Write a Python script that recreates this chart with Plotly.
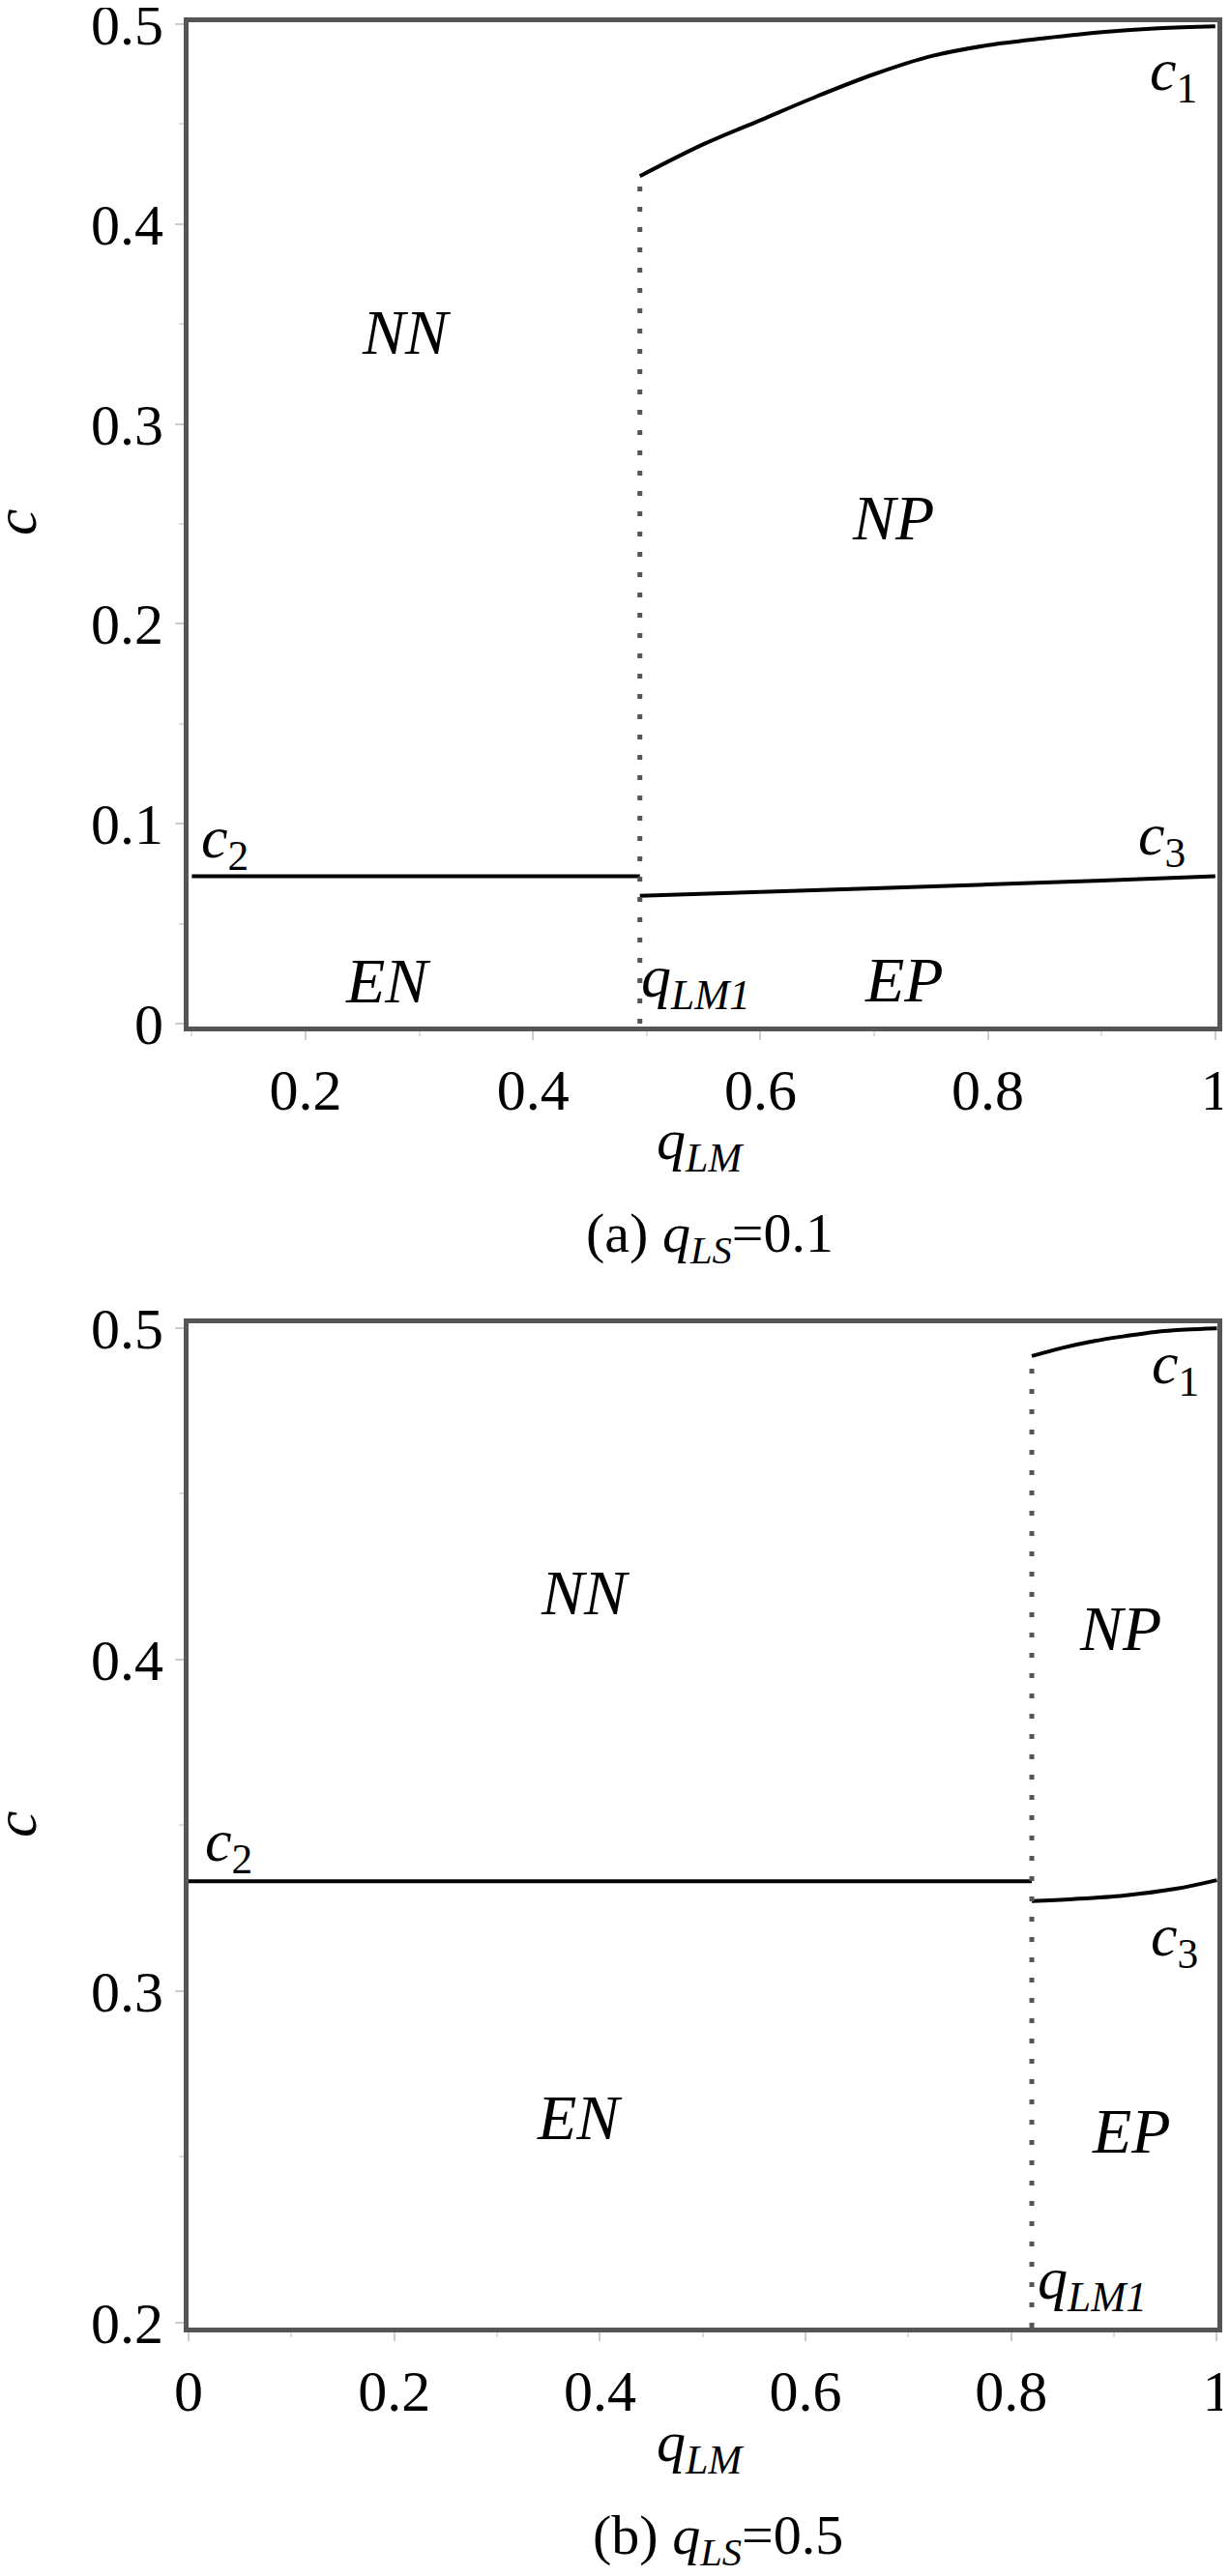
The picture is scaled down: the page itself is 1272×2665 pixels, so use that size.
import plotly.graph_objects as go

# ---------------- data ----------------
# panel (a) q_LS = 0.1
qlm1_a = 0.494
c1_a_q = [0.494, 0.55, 0.6, 0.65, 0.7, 0.75, 0.8, 0.85, 0.9, 0.95, 1.0]
c1_a = [0.424, 0.440, 0.452, 0.464, 0.475, 0.484, 0.4895, 0.493, 0.496, 0.498, 0.499]
c2_a_q = [0.1, 0.494]
c2_a = [0.0737, 0.0737]
c3_a_q = [0.494, 0.6, 0.7, 0.8, 0.9, 1.0]
c3_a = [0.0640, 0.0659, 0.0677, 0.0696, 0.0716, 0.0737]

# panel (b) q_LS = 0.5
qlm1_b = 0.82
c1_b_q = [0.82, 0.85, 0.88, 0.91, 0.94, 0.97, 1.0]
c1_b = [0.4915, 0.4940, 0.4960, 0.4975, 0.4988, 0.4995, 0.4999]
c2_b_q = [0.0, 0.82]
c2_b = [0.3331, 0.3331]
c3_b_q = [0.82, 0.86, 0.91, 0.96, 1.0]
c3_b = [0.3271, 0.3277, 0.3288, 0.3308, 0.3334]

# region / curve labels: (text, q, c, size)
labels_a = [
    ("<i>NN</i>", 0.289, 0.346, 66),
    ("<i>NP</i>", 0.717, 0.2534, 66),
    ("<i>EN</i>", 0.2723, 0.0213, 66),
    ("<i>EP</i>", 0.7264, 0.0218, 66),
    ("<i>c</i><sub>1</sub>", 0.9636, 0.4749, 62),
    ("<i>c</i><sub>2</sub>", 0.1294, 0.0914, 62),
    ("<i>c</i><sub>3</sub>", 0.9534, 0.0928, 62),
    ("<i>q</i><sub><i>LM1</i></sub>", 0.5427, 0.0213, 62),
]
labels_b = [
    ("<i>NN</i>", 0.386, 0.4203, 66),
    ("<i>NP</i>", 0.906, 0.4095, 66),
    ("<i>EN</i>", 0.380, 0.262, 66),
    ("<i>EP</i>", 0.9164, 0.2579, 66),
    ("<i>c</i><sub>1</sub>", 0.9596, 0.488, 62),
    ("<i>c</i><sub>2</sub>", 0.0394, 0.3442, 62),
    ("<i>c</i><sub>3</sub>", 0.9587, 0.3154, 62),
    ("<i>q</i><sub><i>LM1</i></sub>", 0.8787, 0.2119, 62),
]

caption_a = "(a) <i>q</i><sub><i>LS</i></sub>=0.1"
caption_b = "(b) <i>q</i><sub><i>LS</i></sub>=0.5"
xtitle = "<i>q</i><sub><i>LM</i></sub>"
ytitle = "<i>c</i>"

# ---------------- figure ----------------
OFF = 8                      # default page margin of the html body
W, H = 1272 - 2 * OFF, 2665 - 2 * OFF
FONT = "Liberation Serif"
CURVE = dict(color="black", width=4)
DOT = dict(color="#555555", width=5, dash="5px,16px")

fig = go.Figure()

def add_panel(xa, ya, c1q, c1, c2q, c2, c3q, c3, qlm1, ybottom):
    fig.add_trace(go.Scatter(x=c1q, y=c1, mode="lines", line=CURVE, xaxis=xa, yaxis=ya,
                             line_shape="spline", showlegend=False, hoverinfo="skip"))
    fig.add_trace(go.Scatter(x=c2q, y=c2, mode="lines", line=CURVE, xaxis=xa, yaxis=ya,
                             showlegend=False, hoverinfo="skip"))
    fig.add_trace(go.Scatter(x=c3q, y=c3, mode="lines", line=CURVE, xaxis=xa, yaxis=ya,
                             line_shape="spline", showlegend=False, hoverinfo="skip"))
    fig.add_trace(go.Scatter(x=[qlm1, qlm1], y=[ybottom, c1[0]], mode="lines", line=DOT,
                             xaxis=xa, yaxis=ya, showlegend=False, hoverinfo="skip"))

add_panel("x", "y", c1_a_q, c1_a, c2_a_q, c2_a, c3_a_q, c3_a, qlm1_a, 0.0)
add_panel("x2", "y2", c1_b_q, c1_b, c2_b_q, c2_b, c3_b_q, c3_b, qlm1_b, 0.19845)

def px_x(p):
    return (p - OFF) / W

def px_y(p):
    return 1 - (p - OFF) / H

axis_common = dict(
    showline=True, mirror=True, linecolor="#555555", linewidth=5,
    showgrid=False, zeroline=False, automargin=False,
    ticks="outside", ticklen=9, tickwidth=2, tickcolor="#cccccc",
    ticklabeloverflow="allow",
    tickfont=dict(family=FONT, size=60, color="black"),
)

xdom = [px_x(195), px_x(1259)]
fig.update_layout(
    width=W, height=H,
    margin=dict(l=0, r=0, t=0, b=0, autoexpand=False),
    paper_bgcolor="white", plot_bgcolor="white",
    font=dict(family=FONT, color="black"),
    xaxis=dict(domain=xdom, anchor="y", range=[0.0971, 1.0019], tick0=0, dtick=0.2,
               minor=dict(ticks="outside", ticklen=5, tickcolor="#dddddd", dtick=0.1), **axis_common),
    yaxis=dict(domain=[px_y(1062), px_y(23)], anchor="x", range=[-0.00145, 0.501], tick0=0, dtick=0.1,
               minor=dict(ticks="outside", ticklen=5, tickcolor="#dddddd", dtick=0.05), **axis_common),
    xaxis2=dict(domain=xdom, anchor="y2", range=[0.0, 1.0005], tick0=0, dtick=0.2,
                minor=dict(ticks="outside", ticklen=5, tickcolor="#dddddd", dtick=0.1), **axis_common),
    yaxis2=dict(domain=[px_y(2408), px_y(1369)], anchor="x2", range=[0.19845, 0.5014], tick0=0, dtick=0.1,
                minor=dict(ticks="outside", ticklen=5, tickcolor="#dddddd", dtick=0.05), **axis_common),
)

ann = []
for (t, q, c, s) in labels_a:
    ann.append(dict(text=t, x=q, y=c, xref="x", yref="y", showarrow=False,
                    xanchor="center", yanchor="middle", font=dict(family=FONT, size=s, color="black")))
for (t, q, c, s) in labels_b:
    ann.append(dict(text=t, x=q, y=c, xref="x2", yref="y2", showarrow=False,
                    xanchor="center", yanchor="middle", font=dict(family=FONT, size=s, color="black")))

paper = [
    (ytitle, 16, 540, 62, -90),
    (ytitle, 16, 1887, 62, -90),
    (xtitle, 724, 1184, 60, 0),
    (xtitle, 724, 2530, 60, 0),
    (caption_a, 734, 1280, 58, 0),
    (caption_b, 743, 2626, 58, 0),
]
for (t, x, y, s, ang) in paper:
    ann.append(dict(text=t, x=px_x(x), y=px_y(y), xref="paper", yref="paper", showarrow=False,
                    xanchor="center", yanchor="middle", textangle=ang,
                    font=dict(family=FONT, size=s, color="black")))

fig.update_layout(annotations=ann)
fig.write_html("out.html")
